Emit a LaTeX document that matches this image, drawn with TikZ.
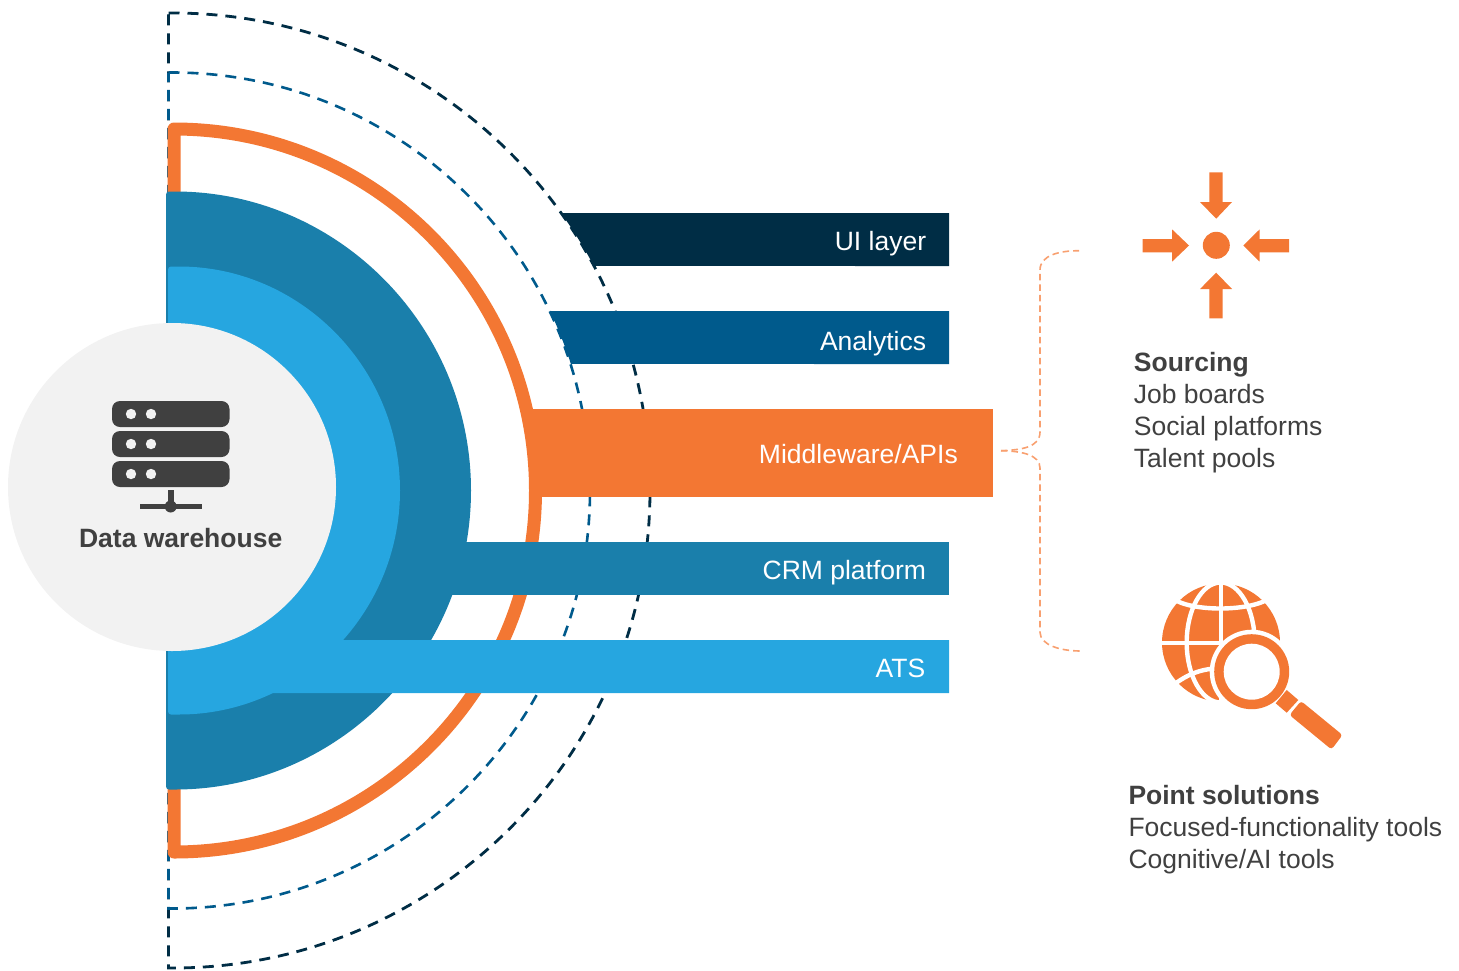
\documentclass[tikz,border=0pt]{standalone}
\usepackage{fontspec}
\setmainfont{Liberation Sans}
\definecolor{navy}{HTML}{002D45}
\definecolor{midblue}{HTML}{005A8C}
\definecolor{orangeA}{HTML}{F37733}
\definecolor{orangeL}{HTML}{F8A070}
\definecolor{tealblue}{HTML}{1A7FAB}
\definecolor{skyblue}{HTML}{26A6E0}
\definecolor{greyA}{HTML}{F2F2F2}
\definecolor{inkA}{HTML}{404040}
\tikzset{
  barlabel/.style={text=white,anchor=base east,inner sep=0pt,font=\fontsize{26.5}{32}\selectfont},
  sidetext/.style={text=inkA,anchor=north west,inner sep=0pt,align=left,font=\fontsize{26.5}{32}\selectfont},
  ringdash/.style={dash pattern=on 11pt off 8pt,line width=2.8pt},
  bracedash/.style={draw=orangeL,line width=1.6pt,dash pattern=on 6.5pt off 4pt},
  globeline/.style={draw=white,line width=4.4pt},
}
\begin{document}
\begin{tikzpicture}[x=1pt,y=-1pt]
\useasboundingbox (0,0) rectangle (1459,970);
% dashed outer rings
\draw[ringdash,draw=navy] (168.5,13) -- (172.5,13) arc[start angle=-90,end angle=90,radius=477.5] -- (168.5,968) -- cycle;
\draw[ringdash,draw=midblue,line width=2.6pt] (168.5,72.5) -- (172,72.5) arc[start angle=-90,end angle=90,radius=418] -- (168.5,908.5) -- cycle;
% orange ring
\draw[draw=orangeA,line width=13pt,line join=round] (174,129) arc[start angle=-90,end angle=90,radius=361.5] -- cycle;
% solid half discs
\fill[tealblue,rounded corners=3pt] (166,789.5) -- (166,191.5) -- (172,191.5) arc[start angle=-90,end angle=90,radius=299] -- cycle;
\fill[skyblue,rounded corners=3pt] (168,714.5) -- (168,266.5) -- (176,266.5) arc[start angle=-90,end angle=90,radius=224] -- cycle;
% bars
\fill[navy] ([shift={(172.5,490.5)}]-35.53:477.5) -- (949,213) -- (949,266) -- ([shift={(172.5,490.5)}]-28.05:477.5) arc[start angle=-28.05,end angle=-35.53,radius=477.5] -- cycle;
\fill[midblue] ([shift={(172.5,490.5)}]-25.43:418) -- (949,311) -- (949,364) -- ([shift={(172.5,490.5)}]-17.62:418) arc[start angle=-17.62,end angle=-25.43,radius=418] -- cycle;
\fill[orangeA] (530,409) rectangle (993,497);
\fill[tealblue] (440,542) rectangle (949,595);
\fill[skyblue] (260,640) -- (949,640) -- (949,693) -- (270,693) -- cycle;
\node[barlabel] (ui) at (926.3,250) {UI layer};
\node[barlabel] (analytics) at (926.3,350) {Analytics};
\node[barlabel] (mw) at (958,463) {Middleware/APIs};
\node[barlabel] (crm) at (926.3,579) {CRM platform};
\node[barlabel] (ats) at (925.5,677) {ATS};
% centre disc
\fill[greyA] (172,487) circle[radius=164];
% server icon
\foreach \yy in {401,431,461}{
  \fill[inkA,rounded corners=8pt] (112,\yy) rectangle (229.5,\yy+26);
  \fill[greyA] (131,\yy+13) circle[radius=5.2];
  \fill[greyA] (151,\yy+13) circle[radius=5.2];
}
\fill[inkA] (167.7,490) rectangle (173.7,506);
\fill[inkA] (139.5,504) rectangle (201.5,509);
\fill[inkA] (170.7,506.5) circle[radius=6];
\node[anchor=base,inner sep=0pt,text=inkA,font=\fontsize{26.5}{32}\selectfont\bfseries] (dw) at (180.7,547) {Data warehouse};
% brace
\coordinate (bs) at (1001,450.7);
\coordinate (be1) at (1079,250.7);
\coordinate (be2) at (1081,651);
\draw[bracedash] (bs) .. controls (1022,450) and (1040,447) .. (1040,432) -- (1040,270) .. controls (1040,255) and (1060,250.7) .. (be1);
\draw[bracedash] (bs) .. controls (1022,451) and (1040,455) .. (1040,468) -- (1040,632) .. controls (1040,645) and (1060,651) .. (be2);
% sourcing icon
\fill[orangeA] (1216.3,245.3) circle[radius=13.5];
\fill[orangeA] (1209.3,172.3) -- (1222.7,172.3) -- (1222.7,202) -- (1232,202) -- (1216.2,218.7) -- (1200,202) -- (1209.3,202) -- cycle;
\fill[orangeA] (1209.3,318.3) -- (1222.7,318.3) -- (1222.7,289) -- (1232,289) -- (1216.2,272.7) -- (1200,289) -- (1209.3,289) -- cycle;
\fill[orangeA] (1142.7,239) -- (1172,239) -- (1172,229.3) -- (1189,245.5) -- (1172,261.7) -- (1172,252.3) -- (1142.7,252.3) -- cycle;
\fill[orangeA] (1289,239) -- (1259.7,239) -- (1259.7,229.3) -- (1243.3,245.5) -- (1259.7,261.7) -- (1259.7,252.3) -- (1289,252.3) -- cycle;
% globe icon
\fill[orangeA] (1221,642.5) circle[radius=59];
\draw[globeline] (1220.7,580) -- (1220.7,705);
\draw[globeline] (1158,642.7) -- (1284,642.7);
\draw[globeline] (1220.7,642.5) circle[x radius=34,y radius=60];
\draw[globeline] (1172,598) .. controls (1190,612) and (1250,612) .. (1270,598);
\draw[globeline] (1172,686) .. controls (1190,672) and (1205,668) .. (1225,668);
\fill[white] (1251.7,671.7) circle[radius=42];
\fill[orangeA] (1251.7,671.7) circle[radius=37.5];
\fill[white] (1251.7,671.7) circle[radius=28];
\fill[orangeA] (1286.7,690) -- (1298.3,700) -- (1286.7,712.7) -- (1275.7,703.3) -- cycle;
\fill[orangeA,rounded corners=3pt] (1301,701) -- (1342.5,735) -- (1331.5,749.5) -- (1289.5,715) -- cycle;
% side texts
\node[sidetext] (src) at (1133.7,352.5) {\textbf{Sourcing}\\Job boards\\Social platforms\\Talent pools};
\node[sidetext] (pt) at (1128.3,785.5) {\textbf{Point solutions}\\Focused-functionality tools\\Cognitive/AI tools};
\end{tikzpicture}
\end{document}
